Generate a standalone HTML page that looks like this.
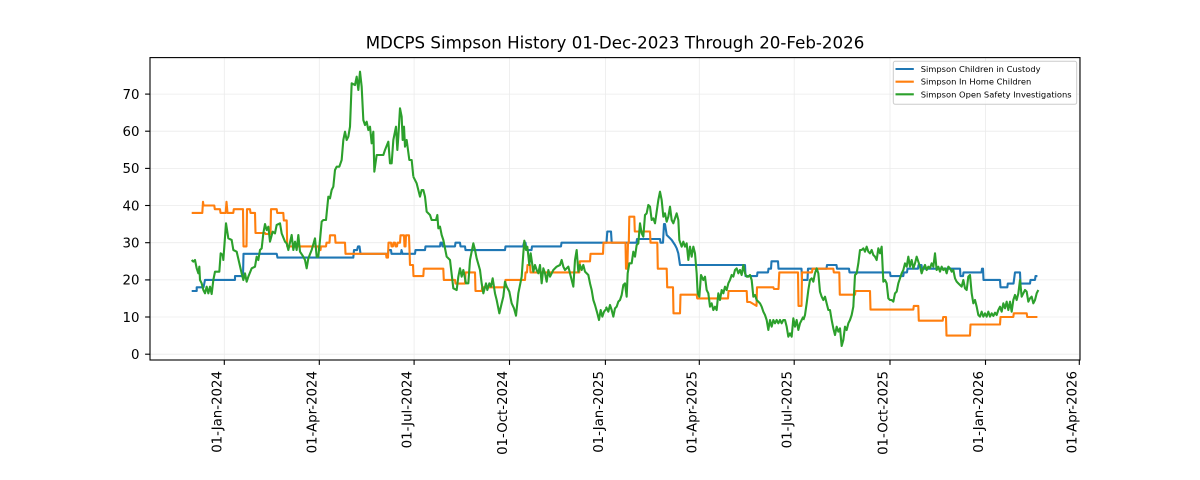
<!DOCTYPE html>
<html>
<head>
<meta charset="utf-8">
<style>
  html,body{margin:0;padding:0;background:#fff;}
  svg{display:block;}
  text{font-family:"DejaVu Sans","Liberation Sans",sans-serif;fill:#000;}
  .ln{fill:none;stroke-width:2.1;stroke-linejoin:round;stroke-linecap:butt;}
  .gl{fill:none;stroke-width:2.1;stroke-linejoin:round;vector-effect:non-scaling-stroke;}
</style>
</head>
<body>
<svg width="1200" height="480" viewBox="0 0 1200 480" xmlns="http://www.w3.org/2000/svg">
  <rect x="0" y="0" width="1200" height="480" fill="#ffffff"/>

  <!-- Title -->
  <text x="615" y="48.7" font-size="16.67" text-anchor="middle">MDCPS Simpson History 01-Dec-2023 Through 20-Feb-2026</text>

  <!-- grid -->
  <g stroke="#ebebeb" stroke-width="0.8">
    <line x1="150" y1="354.2" x2="1080" y2="354.2"/>
    <line x1="150" y1="317.0" x2="1080" y2="317.0"/>
    <line x1="150" y1="279.9" x2="1080" y2="279.9"/>
    <line x1="150" y1="242.7" x2="1080" y2="242.7"/>
    <line x1="150" y1="205.5" x2="1080" y2="205.5"/>
    <line x1="150" y1="168.4" x2="1080" y2="168.4"/>
    <line x1="150" y1="131.2" x2="1080" y2="131.2"/>
    <line x1="150" y1="94.1" x2="1080" y2="94.1"/>
    <line x1="224.3" y1="57.6" x2="224.3" y2="360"/>
    <line x1="319.3" y1="57.6" x2="319.3" y2="360"/>
    <line x1="414.1" y1="57.6" x2="414.1" y2="360"/>
    <line x1="509.5" y1="57.6" x2="509.5" y2="360"/>
    <line x1="605.4" y1="57.6" x2="605.4" y2="360"/>
    <line x1="699.3" y1="57.6" x2="699.3" y2="360"/>
    <line x1="794.2" y1="57.6" x2="794.2" y2="360"/>
    <line x1="890.0" y1="57.6" x2="890.0" y2="360"/>
    <line x1="985.5" y1="57.6" x2="985.5" y2="360"/>
    <line x1="1079.3" y1="57.6" x2="1079.3" y2="360"/>
  </g>

  <!-- Blue: Children in Custody -->
  <polyline class="ln" stroke="#1f77b4" points="191.7,291.0 196.7,291.0 196.7,287.3 203.5,287.3 205,279.9 235,279.9 235,276.1 243,276.1 243.5,253.8 276.7,253.8 277.5,257.6 353.3,257.6 354,250.1 357,250.1 358,246.4 359.5,246.4 360.5,253.8 388,253.8 388.5,250.1 391,250.1 391.5,253.8 401,253.8 401.5,250.1 402.5,253.8 415,253.8 415.5,250.1 425,250.1 425.5,246.4 440,246.4 440.5,242.7 442,242.7 442.5,246.4 455,246.4 455.5,242.7 460,242.7 460.5,246.4 465,246.4 465.5,250.1 505,250.1 505.5,246.4 523,246.4 524,242.7 525.5,242.7 526.5,250.1 531.5,250.1 532,246.4 561,246.4 561.5,242.7 606.5,242.7 607.3,231.5 611,231.5 611.7,242.7 636.5,242.7 637,239.0 660,239.0 660.5,242.7 663,242.7 664,224 665,224 666.7,235 670,238.3 671.7,240 675,245 676.7,248.3 678.3,253.3 680,265.0 745,265.0 745.5,276.1 757,276.1 757.5,272.4 768,272.4 768.5,268.7 771,268.7 771.5,261.3 778,261.3 778.5,268.7 801.5,268.7 802,279.9 807.5,279.9 808,268.7 826.5,268.7 827,265.0 836.5,265.0 837,268.7 849,268.7 849.5,272.4 890,272.4 890.5,276.1 903.3,276.1 903.8,272.4 907,272.4 907.5,268.7 918,268.7 918.5,265.0 921.5,265.0 922,268.7 960,268.7 960.5,276.1 963,276.1 963.5,272.4 981.5,272.4 982,268.7 983,268.7 983.5,279.9 1000,279.9 1000.5,287.3 1007.3,287.3 1007.8,283.6 1013.5,283.6 1015,272.4 1020,272.4 1020.5,283.6 1030,283.6 1030.5,279.9 1035,279.9 1035.5,276.1 1037.4,276.1"/>

  <!-- Orange: In Home Children -->
  <polyline class="ln" stroke="#ff7f0e" points="191.7,212.9 202.3,212.9 203,201.8 203.5,205.5 214.3,205.5 214.8,209.2 220,209.2 220.5,212.9 225.7,212.9 226.5,201.8 227.5,212.9 233.3,212.9 233.8,209.2 243,209.2 243.5,246.4 246.5,246.4 247,209.2 250,209.2 250.5,212.9 255,212.9 255.5,233 265,233 265.5,234 270.5,234 271,209.2 276.7,209.2 277.2,212.9 283.3,212.9 283.8,220.4 286.7,220.4 287.2,246.4 318.5,246.4 319,250.1 320.5,250.1 321,246.4 326,246.4 326.5,242.7 329.5,242.7 330,235.3 335,235.3 335.5,242.7 345,242.7 345.5,253.8 386,253.8 386.5,257.6 388,257.6 388.5,242.7 391,242.7 391.5,246.4 393,246.4 393.5,242.7 395,242.7 395.5,246.4 397,246.4 397.5,242.7 400,242.7 400.5,235.3 404,235.3 404.5,246.4 405.5,246.4 406,235.3 409,235.3 410,265 413,265 413.5,276.1 423.3,276.1 423.8,268.7 443.3,268.7 443.8,279.9 455,279.9 455.5,283.6 465,283.6 465.5,272.4 475,272.4 475.5,291.0 481.7,291.0 482.2,287.3 505,287.3 505.5,279.9 525,279.9 525.5,272.4 527,272.4 527.5,265 530,265 530.5,272.4 579.3,272.4 579.8,261.3 590,261.3 590.5,253.8 603,253.8 603.5,242.7 625.5,242.7 626,268.7 627.3,268.7 628,242.7 628.8,242.7 629.3,216.7 634.3,216.7 634.8,231.5 650,231.5 650.5,242.7 657.3,242.7 657.8,268.7 666.7,268.7 667.2,287.3 673,287.3 673.5,313.3 680,313.3 680.5,294.7 696.7,294.7 697.2,298.4 728,298.4 728.5,291.0 746.7,291.0 747.2,302 750,302 756.5,305.9 757,287.3 773.3,287.3 774,289 778.5,289 779.3,272.4 798,272.4 798.5,305.9 801.5,305.9 802,272.4 812,272.4 812.5,268.7 833.3,268.7 833.8,272.4 839.3,272.4 839.8,294.7 855,294.7 855.5,291.0 870,291.0 870.5,309.6 913.3,309.6 913.8,305.9 918.3,305.9 918.8,320.7 942.7,320.7 943.2,317 946,317 946.5,335.6 970,335.6 970.5,324.5 1000,324.5 1000.5,317 1013.3,317 1013.8,313.3 1026.7,313.3 1027.2,317 1037.4,317"/>

  <!-- Green: Open Safety Investigations (traced in segments) -->
  <g transform="translate(180,60) scale(0.333333)">
    <polyline class="gl" stroke="#2ca02c" points="35,600 40,605 45,600 50,625 55,640 58,620 60,660 65,670 70,690 75,700 80,680 85,700 90,680 95,702 100,660 105,635 118,635 122,580 128,585 130,600 138,490 145,535 155,540 160,570 170,575 185,640 190,660 195,640 200,665 205,650 215,625 225,620 230,590 235,600 240,570 245,565 250,520 255,492 260,510 265,500 270,545 278,515 285,520 290,495 300,490 305,520 315,545 320,550 325,570 335,525 340,570 345,545 350,570 355,525 360,575 370,590 375,600 380,625 385,595 395,570 405,535 410,590 415,590 420,540 425,485 430,480 438,480 445,410 450,415 455,390 460,380 465,330 470,320 478,320 485,300 490,240 495,215 500,240 505,230 510,200 515,70 525,75 530,50 535,90 540,35 545,80 550,180 555,195 560,185 565,210 570,200 575,250 580,215 583,335 590,285 610,285 615,270 625,245 630,310 635,310 640,240 648,200 652,270 655,230 660,145 665,170 668,240 672,200 675,260 680,240 688,300 695,300 700,350"/>
  </g>
  <g transform="translate(410,150) scale(0.333333)">
    <polyline class="gl" stroke="#2ca02c" points="10,80 20,100 30,140 35,120 40,120 45,140 50,185 60,195 65,210 78,210 82,195 85,235 90,230 95,255 100,270 110,320 120,330 130,415 140,420 145,380 150,355 155,380 160,360 168,400 175,400 180,330 190,280 195,300 200,325 210,360 215,400 220,430 228,400 232,420 238,400 243,410 248,385 255,430 260,450 268,490 275,460 280,440 285,395 290,410 298,425 305,460 312,475 318,497 325,430 335,380 340,310 343,272 348,300 352,290 358,345 362,310 370,365 375,345 380,360 385,370 390,345 395,400 400,355 405,370 410,395 415,360 420,380 430,360 440,350 450,345 455,330 460,350 465,360 475,350 485,390 490,410 495,330 500,300 505,365 510,345 515,360 520,345 525,365 535,375 540,400 545,420 550,450 555,465 562,490 567,510 572,480 577,500 582,485 590,475"/>
  </g>
  <g transform="translate(600,180) scale(0.333333)">
    <polyline class="gl" stroke="#2ca02c" points="18,380 25,395 30,375 35,390 40,410 45,385 50,380 55,365 60,360 65,345 70,315 75,310 80,350 83,280 88,250 95,250 100,215 105,230 110,195 115,190 120,130 125,160 130,170 135,105 140,100 145,75 150,80 155,120 160,115 165,130 170,95 175,60 180,35 185,60 190,110 195,100 200,125 205,110 210,80 215,120 220,130 225,115 230,100 235,120 238,180 245,200 250,185 255,200 260,190 265,240 270,200 275,230 280,200 285,220 290,280 293,340 298,350 303,285 310,300 315,290 320,330 325,340 330,380 335,370 340,390 345,380 350,390 355,340 360,360 365,330 370,340 375,320 380,330 385,310 390,300 395,285 400,290 405,270 410,265 415,280 420,270 425,285 430,255 435,280 440,290 445,290 450,285 455,300 460,350 465,345 470,360 480,370 485,380 490,395 495,405 500,420 505,450 510,420 515,440 520,420 525,430 530,420 535,430 540,420 545,430 550,420 555,420 560,440 565,470 570,460 575,470 580,415 585,440 590,420 595,450 600,430 605,420 610,410"/>
  </g>
  <g transform="translate(800,220) scale(0.333333)">
    <polyline class="gl" stroke="#2ca02c" points="10,300 15,285 20,250 25,210 30,180 35,175 40,185 45,160 50,145 55,160 60,215 65,230 70,240 75,230 80,250 85,270 90,270 95,300 100,325 105,345 110,320 115,335 120,325 125,378 130,360 135,320 140,330 145,310 150,300 155,285 160,260 165,165 170,160 175,130 180,90 185,90 190,85 195,95 200,80 205,95 210,100 215,90 220,105 225,110 230,120 235,85 240,100 245,80 250,185 255,180 260,190 265,235 270,240 275,240 280,245 285,220 290,215 295,190 300,175 305,160 310,150 315,130 320,140 325,110 330,140 335,120 340,145 345,130 350,110 355,125 360,140 365,160 370,145 375,135 380,150 385,140 390,145 395,130 400,140 405,100 410,150 415,140 420,155 425,140 430,150 435,145 440,160 445,140 450,145 455,155 460,150 465,175 470,185 475,190 480,195 485,200 490,180 495,205 500,210 505,170 510,165 515,220 520,250 525,240 530,260 535,285 540,290 545,275 550,290 555,280 560,290 565,275 570,290 575,280 580,288 585,278 590,285 595,270 600,260 605,275 610,250 615,265 620,245 625,270 630,245 635,275 640,240 645,225 650,240 655,220 660,180 665,230 670,220 675,210 680,215 685,245 690,235 695,230 700,250 705,240 710,220 715,210"/>
  </g>

  <!-- axes frame -->
  <rect x="150" y="57.6" width="930" height="302.4" fill="none" stroke="#000" stroke-width="1.1"/>

  <!-- y ticks -->
  <g stroke="#000" stroke-width="1.1">
    <line x1="145.1" y1="354.2" x2="150" y2="354.2"/>
    <line x1="145.1" y1="317.0" x2="150" y2="317.0"/>
    <line x1="145.1" y1="279.9" x2="150" y2="279.9"/>
    <line x1="145.1" y1="242.7" x2="150" y2="242.7"/>
    <line x1="145.1" y1="205.5" x2="150" y2="205.5"/>
    <line x1="145.1" y1="168.4" x2="150" y2="168.4"/>
    <line x1="145.1" y1="131.2" x2="150" y2="131.2"/>
    <line x1="145.1" y1="94.1" x2="150" y2="94.1"/>
  </g>
  <g font-size="13.33" text-anchor="end">
    <text x="139.5" y="359.0">0</text>
    <text x="139.5" y="321.8">10</text>
    <text x="139.5" y="284.7">20</text>
    <text x="139.5" y="247.5">30</text>
    <text x="139.5" y="210.3">40</text>
    <text x="139.5" y="173.2">50</text>
    <text x="139.5" y="136.0">60</text>
    <text x="139.5" y="98.9">70</text>
  </g>

  <!-- x ticks -->
  <g stroke="#000" stroke-width="1.1">
    <line x1="224.3" y1="360" x2="224.3" y2="364.9"/>
    <line x1="319.3" y1="360" x2="319.3" y2="364.9"/>
    <line x1="414.1" y1="360" x2="414.1" y2="364.9"/>
    <line x1="509.5" y1="360" x2="509.5" y2="364.9"/>
    <line x1="605.4" y1="360" x2="605.4" y2="364.9"/>
    <line x1="699.3" y1="360" x2="699.3" y2="364.9"/>
    <line x1="794.2" y1="360" x2="794.2" y2="364.9"/>
    <line x1="890.0" y1="360" x2="890.0" y2="364.9"/>
    <line x1="985.5" y1="360" x2="985.5" y2="364.9"/>
    <line x1="1079.3" y1="360" x2="1079.3" y2="364.9"/>
  </g>
  <g font-size="13.33" text-anchor="end">
    <text transform="translate(221.7,371) rotate(-90)">01-Jan-2024</text>
    <text transform="translate(316.7,371) rotate(-90)">01-Apr-2024</text>
    <text transform="translate(411.5,371) rotate(-90)">01-Jul-2024</text>
    <text transform="translate(506.9,371) rotate(-90)">01-Oct-2024</text>
    <text transform="translate(602.8,371) rotate(-90)">01-Jan-2025</text>
    <text transform="translate(696.7,371) rotate(-90)">01-Apr-2025</text>
    <text transform="translate(791.6,371) rotate(-90)">01-Jul-2025</text>
    <text transform="translate(887.4,371) rotate(-90)">01-Oct-2025</text>
    <text transform="translate(982.9,371) rotate(-90)">01-Jan-2026</text>
    <text transform="translate(1076.7,371) rotate(-90)">01-Apr-2026</text>
  </g>

  <!-- legend -->
  <rect x="893.3" y="61.3" width="183.4" height="43" rx="2" ry="2" fill="#ffffff" fill-opacity="0.8" stroke="#cccccc" stroke-width="1"/>
  <line x1="895.5" y1="69.0" x2="913.8" y2="69.0" stroke="#1f77b4" stroke-width="2.1"/>
  <line x1="895.5" y1="81.7" x2="913.8" y2="81.7" stroke="#ff7f0e" stroke-width="2.1"/>
  <line x1="895.5" y1="94.3" x2="913.8" y2="94.3" stroke="#2ca02c" stroke-width="2.1"/>
  <g font-size="8.33">
    <text x="920.7" y="72.0">Simpson Children in Custody</text>
    <text x="920.7" y="84.7">Simpson In Home Children</text>
    <text x="920.7" y="97.3">Simpson Open Safety Investigations</text>
  </g>
</svg>
</body>
</html>
